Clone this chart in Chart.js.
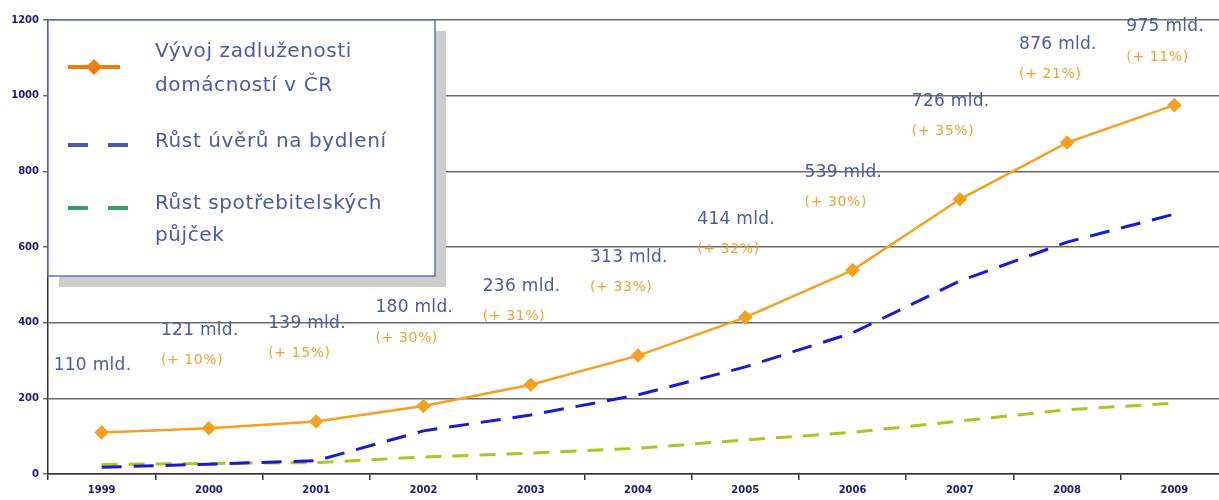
<!DOCTYPE html>
<html>
<head>
<meta charset="utf-8">
<script src="https://cdn.jsdelivr.net/npm/chart.js@4/dist/chart.umd.min.js"></script>
<style>
  html, body { margin: 0; padding: 0; background: #fff; overflow: hidden; }
  #wrap { width: 1236px; height: 500px; }
</style>
</head>
<body>
<div id="wrap"><canvas id="debtChart" width="1236" height="500"></canvas></div>
<script>
const years = ['1999', '2000', '2001', '2002', '2003', '2004', '2005', '2006', '2007', '2008', '2009'];
const totalDebt = [110, 121, 139, 180, 236, 313, 414, 539, 726, 876, 975];
const growthPct = [null, 10, 15, 30, 31, 33, 32, 30, 35, 21, 11];
const housingLoans = [18, 26, 35, 114, 156, 209, 283, 373, 510, 613, 687];
const consumerLoans = [25, 28, 30, 45, 55, 68, 90, 110, 140, 170, 187];
const yTicks = [0, 200, 400, 600, 800, 1000, 1200];

const legendItems = [
  { lines: ['Vývoj zadluženosti', 'domácností v ČR'], color: '#f47a10', kind: 'marker' },
  { lines: ['Růst úvěrů na bydlení'], color: '#4a5aa8', kind: 'dash' },
  { lines: ['Růst spotřebitelských', 'půjček'], color: '#3a9a6a', kind: 'dash' }
];

const textFont = '"DejaVu Sans", sans-serif';
const axisFont = { family: 'Verdana, "DejaVu Sans", sans-serif', size: 10, weight: 'bold' };

// value + growth labels above the total debt line
const pointLabels = {
  id: 'pointLabels',
  afterDatasetsDraw(chart) {
    const { ctx, scales: { x, y } } = chart;
    ctx.save();
    ctx.textAlign = 'left';
    ctx.textBaseline = 'middle';
    totalDebt.forEach((v, i) => {
      const px = x.getPixelForValue(i) - 48;
      let py = Math.max(y.getPixelForValue(v) - 98, 27);
      if (growthPct[i] == null) py += 31;
      ctx.font = '17px ' + textFont;
      ctx.letterSpacing = '0.3px';
      ctx.fillStyle = '#4a5aa8';
      ctx.fillText(v + ' mld.', px, py);
      if (growthPct[i] != null) {
        ctx.font = '14px ' + textFont;
        ctx.letterSpacing = '0.6px';
        ctx.fillStyle = '#f0a030';
        ctx.fillText('(+ ' + growthPct[i] + '%)', px, py + 30);
      }
    });
    ctx.restore();
  }
};

// boxed legend with drop shadow in the upper left corner
const boxLegend = {
  id: 'boxLegend',
  afterDraw(chart) {
    const { ctx, chartArea } = chart;
    const bx = chartArea.left, by = chartArea.top, bw = 387, bh = 256;
    ctx.save();
    ctx.fillStyle = '#cdcdcd';
    ctx.fillRect(bx + 11, by + 11, bw, bh);
    ctx.fillStyle = '#fff';
    ctx.fillRect(bx, by, bw, bh);
    ctx.strokeStyle = '#6070b8';
    ctx.lineWidth = 1.5;
    ctx.strokeRect(bx, by, bw, bh);

    const rows = [[52, 86], [142], [204, 236]];
    const symY = [67, 145, 208];
    ctx.font = '20px ' + textFont;
    ctx.letterSpacing = '0.6px';
    ctx.textBaseline = 'middle';
    ctx.textAlign = 'left';
    legendItems.forEach((item, k) => {
      const sy = symY[k];
      ctx.strokeStyle = item.color;
      ctx.lineWidth = 4;
      ctx.lineCap = 'butt';
      if (item.kind === 'marker') {
        ctx.beginPath();
        ctx.moveTo(bx + 20, sy);
        ctx.lineTo(bx + 72, sy);
        ctx.stroke();
        ctx.fillStyle = item.color;
        ctx.beginPath();
        ctx.moveTo(bx + 46, sy - 8);
        ctx.lineTo(bx + 54, sy);
        ctx.lineTo(bx + 46, sy + 8);
        ctx.lineTo(bx + 38, sy);
        ctx.closePath();
        ctx.fill();
      } else {
        ctx.beginPath();
        ctx.moveTo(bx + 20, sy);
        ctx.lineTo(bx + 40, sy);
        ctx.moveTo(bx + 60, sy);
        ctx.lineTo(bx + 80, sy);
        ctx.stroke();
      }
      ctx.fillStyle = '#4a5aa8';
      item.lines.forEach((t, j) => ctx.fillText(t, bx + 107, rows[k][j]));
    });
    ctx.restore();
  }
};

new Chart(document.getElementById('debtChart'), {
  type: 'line',
  data: {
    labels: years,
    datasets: [
      {
        label: 'Vývoj zadluženosti domácností v ČR',
        data: totalDebt,
        borderColor: '#f5a020',
        backgroundColor: '#f5a020',
        borderWidth: 2.5,
        pointStyle: 'rectRot',
        pointRadius: 5.5,
        tension: 0
      },
      {
        label: 'Růst úvěrů na bydlení',
        data: housingLoans,
        borderColor: '#1a1ad6',
        borderWidth: 3,
        borderDash: [20, 12],
        pointRadius: 0,
        tension: 0
      },
      {
        label: 'Růst spotřebitelských půjček',
        data: consumerLoans,
        borderColor: '#a6c820',
        borderWidth: 3,
        borderDash: [16, 11],
        pointRadius: 0,
        tension: 0
      }
    ]
  },
  options: {
    responsive: false,
    animation: false,
    layout: { padding: { top: 20, right: 0, left: 0, bottom: 0 } },
    plugins: { legend: { display: false }, tooltip: { enabled: false } },
    scales: {
      x: {
        offset: true,
        afterFit: s => { s.height = 26; },
        border: { color: '#333', width: 1.5 },
        grid: { display: true, offset: true, drawOnChartArea: false, color: '#333', tickLength: 6, lineWidth: 1.5 },
        ticks: { color: '#1c1c6c', font: axisFont, padding: 4 }
      },
      y: {
        min: 0,
        max: 1200,
        afterFit: s => { s.width = 48; },
        afterBuildTicks: s => { s.ticks = yTicks.map(v => ({ value: v })); },
        border: { color: '#333', width: 1.5 },
        grid: { color: '#6a6a6a', lineWidth: 1.5, tickLength: 5 },
        ticks: { color: '#1c1c6c', font: axisFont, padding: 4, callback: v => String(v) }
      }
    }
  },
  plugins: [pointLabels, boxLegend]
});
</script>
</body>
</html>
